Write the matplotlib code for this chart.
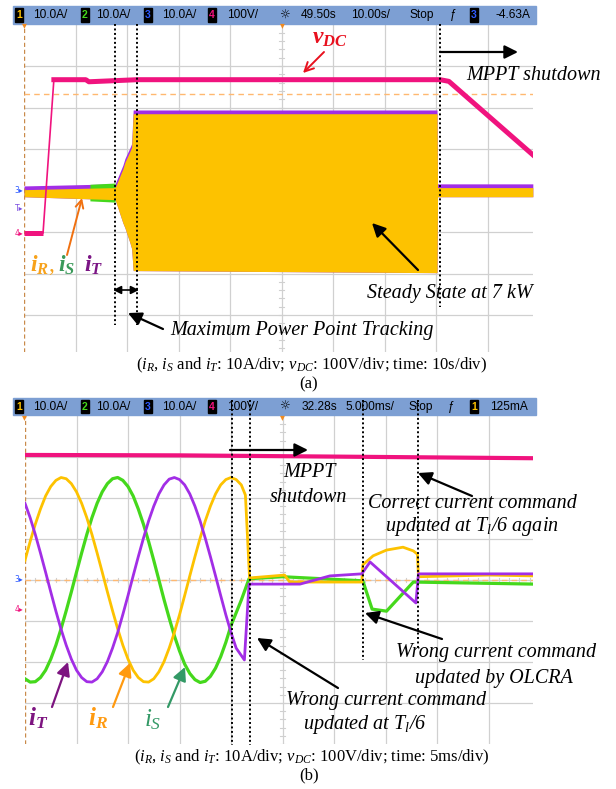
import matplotlib.pyplot as plt
from matplotlib.patches import Rectangle

plt.rcParams["mathtext.fontset"] = "custom"
plt.rcParams["mathtext.rm"] = "Liberation Serif"
plt.rcParams["mathtext.it"] = "Liberation Serif:italic"
plt.rcParams["mathtext.bf"] = "Liberation Serif:bold"
plt.rcParams["mathtext.bfit"] = "Liberation Serif:italic:bold"

# ---------------- (a) 10 s/div, currents 10 A/div, vDC 100 V/div
a_vdc_t = [0, 3.7, 5.8, 12.0, 12.6, 22.0, 80.8, 82.5, 98.8]
a_vdc_v = [0, 0, 369, 369, 364, 369, 369, 365, 188]

a_env_t = [0, 17.7, 19.2, 19.6, 20.6, 20.9, 21.2, 80.2, 80.3, 98.8]
a_env_hi = [0.5, 1.0, 5.5, 7.1, 9.8, 10.7, 18.8, 18.8, 1.0, 1.0]
a_env_lo = [-1.5, -2.2, -7.8, -9.0, -12.7, -14.0, -19.3, -19.8, -1.5, -1.5]
a_ripple_t = [12.8, 17.7]
a_ripple_hi = [1.5, 1.8]
a_ripple_lo = [-2.5, -2.8]

# ---------------- (b) 5 ms/div, samples every 0.5 ms
b_t = [k * 0.5 for k in range(42)]
b_ir = [4.8, 9.4, 13.6, 17.3, 20.5, 22.8, 24.3, 25.0, 24.7, 23.5, 21.5, 18.7, 15.2, 11.1,
        6.6, 1.9, -2.9, -7.5, -11.9, -15.9, -19.3, -22.0, -23.8, -24.8, -24.9, -24.1,
        -22.4, -19.9, -16.6, -12.8, -8.5, -3.8, 1.0, 5.7, 10.2, 14.4, 18.0, 21.0, 23.2,
        24.5, 25.0, 24.5]
b_is = [-24.1, -24.9, -24.8, -23.8, -22.0, -19.3, -15.9, -11.9, -7.5, -2.9, 1.9, 6.6,
        11.1, 15.2, 18.7, 21.5, 23.5, 24.7, 25.0, 24.3, 22.8, 20.5, 17.3, 13.6, 9.4, 4.8,
        0.0, -4.8, -9.3, -13.6, -17.3, -20.5, -22.8, -24.3, -25.0, -24.7, -23.5, -21.5,
        -18.7, -15.2, -11.1]
b_it = [18.7, 15.2, 11.1, 6.6, 1.9, -2.9, -7.6, -12.0, -15.9, -19.3, -22.0, -23.8,
        -24.8, -24.9, -24.1, -22.4, -19.9, -16.6, -12.8, -8.4, -3.8, 1.0, 5.7, 10.2, 14.4,
        18.0, 21.0, 23.2, 24.6, 25.0, 24.5, 23.2, 21.0, 18.0, 14.4, 10.2, 5.7, 1.0, -3.8,
        -8.5, -12.8, -16.6]
# after MPPT shutdown
b_ir_t2 = [21.0, 21.4, 21.8, 25.2, 25.7, 32.7, 32.8, 33.8, 35.1, 36.7, 37.7, 38.1, 38.2, 45.0, 49.4]
b_ir2 = [23.2, 20.7, 0.5, 1.2, -0.5, -0.5, 3.7, 5.9, 7.3, 8.0, 7.1, 6.3, 0.8, 1.2, 1.0]
b_is_t2 = [21.0, 21.75, 25.0, 32.8, 33.7, 35.1, 37.7, 49.4]
b_is2 = [-4.9, 0.3, 0.8, -0.2, -7.1, -7.6, -0.5, -1.0]
b_it_t2 = [21.3, 21.75, 26.7, 29.6, 32.7, 33.5, 37.95, 38.2, 49.4]
b_it2 = [-19.5, -1.0, -1.0, 1.0, 1.5, 4.4, -5.6, 1.5, 1.5]
b_vdc_t = [0, 15, 30, 49.4]
b_vdc_v = [376, 375, 372, 368]

YEL, GRN, PUR, PNK = "#fdc200", "#45d81c", "#a22ee6", "#f0137e"
GRID = "#d0d0d0"
W, H = 616, 789
fig = plt.figure(figsize=(6.16, 7.89), dpi=100)


def rect(x0, y0, x1, y1):
    return [x0 / W, 1 - y1 / H, (x1 - x0) / W, (y1 - y0) / H]


def screen(x0, y0, x1, y1, ybot):
    ax = fig.add_axes(rect(x0, y0, x1, y1))
    nx = (x1 - x0) / 51.5
    ax.set_xlim(0, nx)
    ax.set_ylim(ybot, 4)
    for k in range(1, 10):
        ax.axvline(k, color=GRID, lw=0.9, zorder=0)
    for k in range(-3, 4):
        ax.axhline(k, color=GRID, lw=0.9, zorder=0)
    for k in range(int(nx * 5) + 1):
        ax.plot([k / 5] * 2, [-0.05, 0.05], color=GRID, lw=0.8, zorder=0)
    for k in range(-20, 20):
        ax.plot([4.95, 5.05], [k / 5] * 2, color=GRID, lw=0.8, zorder=0)
    ax.axvline(0, color="#c98a4a", lw=1.0, ls=(0, (3, 2)))
    ax.axis("off")
    return ax


# ---------- screen (a)
ax = screen(24, 24.5, 533, 352, 4 - (352 - 24.5) / 41.5)
ta = [t / 10 for t in a_env_t]
ax.axhline(2.33, color="#ffb870", lw=1.0, ls=(0, (4, 3)))
ax.fill_between(ta, [v / 10 + 0.06 for v in a_env_hi], [v / 10 for v in a_env_lo], color=PUR, lw=0)
ax.fill_between([t / 10 for t in a_ripple_t], [v / 10 for v in a_ripple_hi],
                [v / 10 for v in a_ripple_lo], color=GRN, lw=0)
ax.fill_between(ta, [v / 10 - 0.03 for v in a_env_hi], [v / 10 for v in a_env_lo], color=YEL, lw=0)
vx = [t / 10 for t in a_vdc_t]
vy = [-1.02 + v / 100 for v in a_vdc_v]
ax.plot(vx[:2], vy[:2], color=PNK, lw=3.6, solid_capstyle="butt")
ax.plot(vx[1:3], vy[1:3], color=PNK, lw=1.2)
ax.plot(vx[2:], vy[2:], color=PNK, lw=3.6)

# ---------- screen (b)
bx = screen(25, 416, 533, 744, -4)
bx.axhline(0, color="#ffb870", lw=1.0, ls=(0, (4, 3)))
bx.plot([t / 5 for t in b_t[:41] + b_is_t2], [v / 10 for v in b_is + b_is2], color=GRN, lw=2.3)
bx.plot([t / 5 for t in b_t + b_ir_t2], [v / 10 for v in b_ir + b_ir2], color=YEL, lw=2.0)
bx.plot([t / 5 for t in b_t + b_it_t2], [v / 10 for v in b_it + b_it2], color=PUR, lw=2.0)
bx.plot([t / 5 for t in b_vdc_t], [-0.71 + v / 100 for v in b_vdc_v], color=PNK, lw=3.0)

# ---------- overlay in pixel units
ov = fig.add_axes([0, 0, 1, 1])
ov.set_xlim(0, W)
ov.set_ylim(H, 0)
ov.set_autoscale_on(False)
ov.axis("off")

SANS = "Liberation Sans"


def header(y0, y1, fields, last_ch):
    ov.add_patch(Rectangle((13, y0), 523, y1 - y0, color="#7d9fd3", zorder=2))
    ym = (y0 + y1) / 2
    for xb, num, col in [(15, "1", YEL), (81, "2", GRN), (144, "3", "#2f5bff"),
                         (208, "4", PNK), (470, last_ch[0], last_ch[1])]:
        ov.add_patch(Rectangle((xb, y0 + 2), 8, y1 - y0 - 4, color="black", zorder=3))
        ov.text(xb + 4, ym, num, color=col, fontsize=7.5, ha="center", va="center",
                family=SANS, weight="bold", zorder=4)
    for txt, x in fields:
        fam = "DejaVu Sans" if txt == "☼" else SANS
        ov.text(x, ym, txt, fontsize=8.6, ha="center", va="center", family=fam, zorder=4)


header(6, 24, [("10.0A/", 50), ("10.0A/", 113), ("10.0A/", 179), ("100V/", 243),
               ("☼", 284), ("49.50s", 319), ("10.00s/", 370), ("Stop", 422),
               ("ƒ", 453), ("-4.63A", 513)], ("3", "#2f5bff"))
header(398, 415, [("10.0A/", 50), ("10.0A/", 113), ("10.0A/", 179), ("100V/", 243),
                  ("☼", 284), ("32.28s", 319), ("5.000ms/", 370), ("Stop", 421),
                  ("ƒ", 451), ("125mA", 509)], ("1", YEL))

# left channel markers
for y, s, c in [(190, "3", "#2f5bff"), (208, "T", "#7a4de0"), (233, "4", PNK),
                (580, "3", "#2f5bff"), (609, "4", PNK)]:
    ov.text(19, y, s + "▸", fontsize=5.5, color=c, ha="center", va="center", family="DejaVu Sans")
for x, y in [(24, 24), (282, 24), (24, 416), (282, 416)]:
    ov.text(x, y + 1, "▾", fontsize=7, color="#f08a20", ha="center", va="center", family="DejaVu Sans")

DOT = dict(color="black", lw=1.4, ls=(0, (1, 1.3)), zorder=5)
for x, ya, yb in [(115, 24, 325), (137, 24, 325), (440, 24, 307),
                  (232, 400, 745), (250, 400, 745), (363, 400, 660), (418, 400, 648)]:
    ov.plot([x, x], [ya, yb], **DOT)


def arrow(tail, tip, color="black", style="-|>", lw=1.6, ms=20):
    ov.annotate("", xy=tip, xytext=tail, zorder=6,
                arrowprops=dict(arrowstyle=style, color=color, lw=lw, mutation_scale=ms,
                                shrinkA=0, shrinkB=0))


SERIF = "Liberation Serif"
IT = dict(family=SERIF, style="italic", fontsize=14.5, ha="center", va="center", zorder=6)

# annotations (a)
arrow((440, 52), (518, 52))
ov.text(534, 75, "MPPT shutdown", **IT)
arrow((418, 270), (372, 223))
ov.text(450, 293, "Steady State at 7 kW", **IT)
arrow((163, 329), (128, 313))
ov.text(302, 330, "Maximum Power Point Tracking", **IT)
arrow((119, 290), (113, 290), style="-|>", ms=12, lw=1.2)
arrow((133, 290), (139, 290), style="-|>", ms=12, lw=1.2)
ov.plot([119, 133], [290, 290], color="black", lw=1.2, zorder=6)
arrow((324, 52), (303, 73), color="#e8101e", style="->", lw=1.4, ms=16)
ov.text(330, 37, r"$\mathbfit{v}_{\mathbfit{DC}}$", color="#e8101e", fontsize=17,
        ha="center", va="center", zorder=6)
arrow((67, 255), (82, 198), color="#f07010", style="->", lw=1.4, ms=14)
ov.text(42, 265, r"$\mathbfit{i}_{\mathbfit{R}}$,", color="#f7a21b", fontsize=17,
        ha="center", va="center", family=SERIF, zorder=6)
ov.text(67, 265, r"$\mathbfit{i}_{\mathbfit{S}}$", color="#3b9a5a", fontsize=17,
        ha="center", va="center", zorder=6)
ov.text(94, 265, r"$\mathbfit{i}_{\mathbfit{T}}$", color="#7b1585", fontsize=17,
        ha="center", va="center", zorder=6)
CAP = dict(family=SERIF, fontsize=12, ha="center", va="center")
ov.text(312, 365, r"($i_R$, $i_S$ and $i_T$: 10A/div; $v_{DC}$: 100V/div; time: 10s/div)", **CAP)
ov.text(309, 384, "(a)", **CAP)

# annotations (b)
arrow((230, 450), (308, 450))
ov.text(309, 472, "MPPT", **IT)
ov.text(309, 497, "shutdown", **IT)
arrow((472, 496), (418, 473))
ov.text(472, 503, "Correct current command", **IT)
ov.text(472, 527, r"updated at $T_l$/6 again", **IT)
arrow((442, 639), (365, 613))
ov.text(496, 653, "Wrong current command", **IT)
ov.text(494, 678, "updated by OLCRA", **IT)
arrow((338, 688), (257, 638))
ov.text(386, 700, "Wrong current command", **IT)
ov.text(365, 724, r"updated at $T_l$/6", **IT)
arrow((52, 707), (68, 662), color="#7d1480")
arrow((113, 707), (130, 663), color="#ff9a10")
arrow((168, 707), (185, 667), color="#339966")
ov.text(38, 718, r"$\mathbfit{i}_{\mathbfit{T}}$", color="#7d1480", fontsize=18, ha="center", va="center")
ov.text(98, 718, r"$\mathbfit{i}_{\mathbfit{R}}$", color="#ff9a10", fontsize=18, ha="center", va="center")
ov.text(153, 720, r"$i_S$", color="#339966", fontsize=18, ha="center", va="center")
ov.text(312, 757, r"($i_R$, $i_S$ and $i_T$: 10A/div; $v_{DC}$: 100V/div; time: 5ms/div)", **CAP)
ov.text(309, 775, "(b)", **CAP)

fig.savefig("out.png", dpi=100)
